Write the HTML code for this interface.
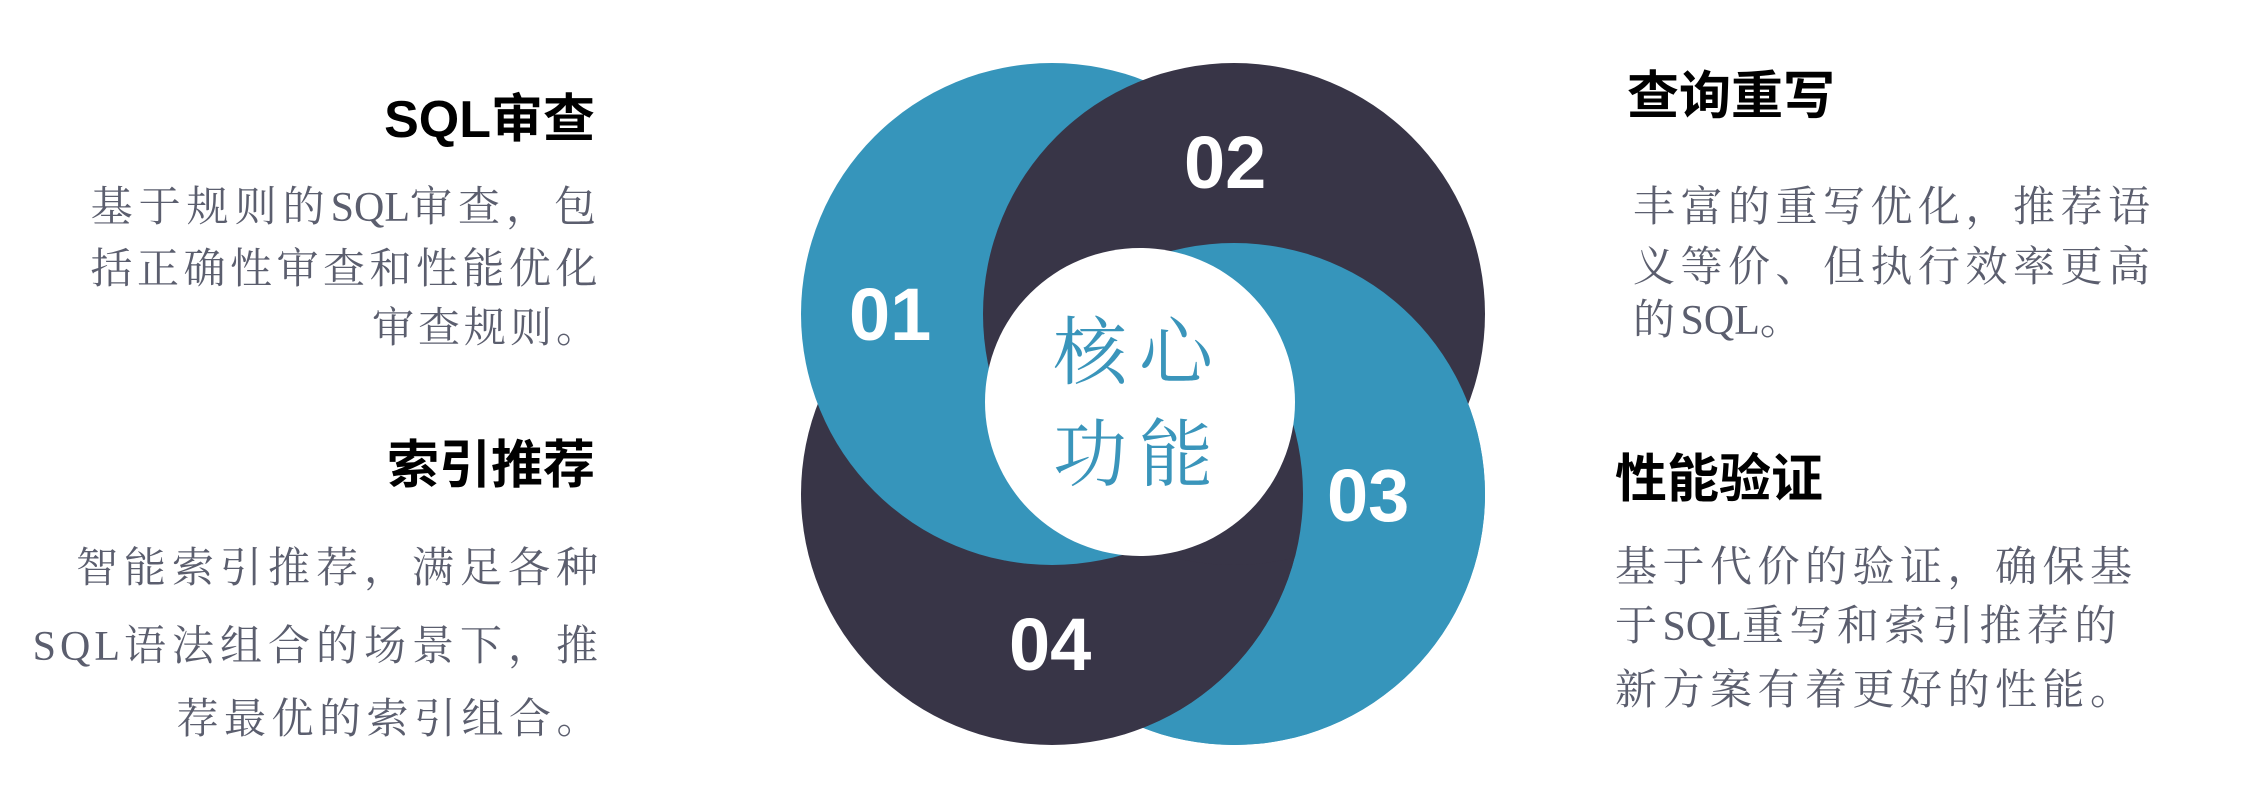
<!DOCTYPE html>
<html><head><meta charset="utf-8"><style>
html,body{margin:0;padding:0;background:#fff;}
body{width:2247px;height:808px;position:relative;overflow:hidden;}
.h{position:absolute;font-family:"Liberation Sans","Noto Sans CJK SC",sans-serif;font-weight:bold;font-size:52px;line-height:52px;color:#000;white-space:nowrap;}
.t{position:absolute;font-family:"Liberation Serif","Noto Serif CJK SC",serif;font-size:42px;line-height:42px;color:#5b5e6e;white-space:nowrap;}
.t span{letter-spacing:0;}
</style></head><body>
<svg width="2247" height="808" style="position:absolute;left:0;top:0">
<defs>
<mask id="m3" maskUnits="userSpaceOnUse" x="0" y="0" width="2247" height="808">
<rect x="1145" y="0" width="500" height="808" fill="#fff"/>
<circle cx="1052" cy="494" r="251" fill="#000"/>
<rect x="1145" y="0" width="500" height="418" fill="#fff"/>
</mask>
</defs>
<circle cx="1234" cy="494" r="251" fill="#3695bb"/>
<circle cx="1052" cy="494" r="251" fill="#383547"/>
<circle cx="1052" cy="314" r="251" fill="#3695bb"/>
<circle cx="1234" cy="314" r="251" fill="#383547"/>
<circle cx="1234" cy="494" r="251" fill="#3695bb" mask="url(#m3)"/>
<ellipse cx="1140" cy="402" rx="155" ry="154" fill="#fff"/>
<g font-family="Liberation Sans,sans-serif" font-weight="bold" font-size="74" fill="#fff">
<text x="849" y="340">01</text>
<text x="1184" y="188">02</text>
<text x="1327" y="521">03</text>
<text x="1009" y="670">04</text>
</g>
<g font-family="Noto Serif CJK SC,serif" font-size="74" fill="#3a95bb">
<text x="1053" y="378" letter-spacing="12">核心</text>
<text x="1053" y="480" letter-spacing="12">功能</text>
</g>
</svg>

<div class="h" style="right:1652px;top:94px;">SQL审查</div>
<div class="t" style="right:1645px;top:187px;letter-spacing:6px;">基于规则的<span>SQL</span>审查，包</div>
<div class="t" style="right:1645px;top:249px;letter-spacing:4.5px;">括正确性审查和性能优化</div>
<div class="t" style="right:1645px;top:308px;letter-spacing:4px;">审查规则。</div>

<div class="h" style="right:1652px;top:440px;">索引推荐</div>
<div class="t" style="right:1643px;top:548px;letter-spacing:6px;">智能索引推荐，满足各种</div>
<div class="t" style="right:1643px;top:626px;letter-spacing:6px;"><span style="letter-spacing:4px">SQL</span>语法组合的场景下，推</div>
<div class="t" style="right:1643px;top:699px;letter-spacing:5.5px;">荐最优的索引组合。</div>

<div class="h" style="left:1627px;top:71px;">查询重写</div>
<div class="t" style="left:1633px;top:187px;letter-spacing:5.5px;">丰富的重写优化，推荐语</div>
<div class="t" style="left:1633px;top:247px;letter-spacing:5.5px;">义等价、但执行效率更高</div>
<div class="t" style="left:1633px;top:300px;letter-spacing:5.5px;">的<span>SQL</span>。</div>

<div class="h" style="left:1615px;top:454px;">性能验证</div>
<div class="t" style="left:1615px;top:547px;letter-spacing:5.5px;">基于代价的验证，确保基</div>
<div class="t" style="left:1615px;top:606px;letter-spacing:5.5px;">于<span>SQL</span>重写和索引推荐的</div>
<div class="t" style="left:1615px;top:670px;letter-spacing:5.5px;">新方案有着更好的性能。</div>
</body></html>
